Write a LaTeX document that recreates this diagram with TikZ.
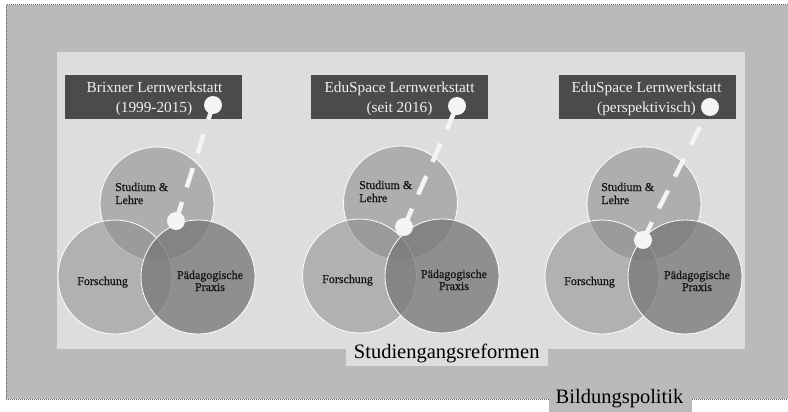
\documentclass[tikz,border=0pt]{standalone}
\usepackage{fontspec}
\setmainfont{Liberation Serif}
\newfontfamily\circfont[FakeBold=0.6]{Liberation Serif}
\definecolor{outergray}{HTML}{BABABA}
\definecolor{innergray}{HTML}{DDDDDD}
\definecolor{hdark}{HTML}{4B4B4B}
\definecolor{htext}{HTML}{F0F0F0}
\definecolor{dotwhite}{HTML}{F4F4F4}
\definecolor{ctop}{HTML}{8F8F8F}
\definecolor{cleft}{HTML}{8C8C8C}
\definecolor{cright}{HTML}{787878}
\definecolor{ctext}{HTML}{141414}
\definecolor{bordergray}{HTML}{606060}
\pgfdeclarelayer{front}
\pgfsetlayers{main,front}
\tikzset{
  hbox/.style={rectangle, fill=hdark, minimum width=177, minimum height=44, inner sep=0},
  htxt/.style={font=\fontsize{15.3}{20}\selectfont, text=htext, inner sep=0, anchor=base},
  vcirc/.style={circle, minimum size=114, inner sep=0, draw=white, line width=0.8pt},
  ctopstyle/.style={vcirc, fill=ctop, fill opacity=0.6},
  cleftstyle/.style={vcirc, fill=cleft, fill opacity=0.54},
  crightstyle/.style={vcirc, fill=cright, fill opacity=0.77},
  dotc/.style={circle, fill=dotwhite, minimum size=18, inner sep=0},
  dashline/.style={draw=dotwhite, line width=4.5pt, dash pattern=on 20pt off 15.5pt},
  ctxt/.style={font=\circfont\fontsize{12}{13}\selectfont, text=ctext, inner sep=0},
  bigtxt/.style={font=\fontsize{20.5}{24}\selectfont, text=black, inner sep=0, anchor=base},
  dotborder/.style={draw=bordergray, line width=1pt, dash pattern=on 1pt off 1pt}
}
\begin{document}
\begin{tikzpicture}[x=1pt,y=-1pt]
\useasboundingbox (0,0) rectangle (788,412);
% outer area (Bildungspolitik)
\fill[white] (0,0) rectangle (788,412);
\fill[outergray] (6,5) rectangle (792,399);
\draw[dotborder] (6,5) rectangle (792,399);
\fill[outergray] (549,381) rectangle (692,412);
\node[bigtxt] (bild) at (619.5,403.5) {Bildungspolitik};
% inner area (Studiengangsreformen)
\fill[innergray] (57,52) rectangle (745,349);
\fill[innergray] (346,340) rectangle (548,366);
\node[bigtxt] (sgr) at (446.7,358.3) {Studiengangsreformen};
% header boxes
\node[hbox] (h1) at (153.5,97) {};
\node[hbox] (h2) at (399.5,97) {};
\node[hbox] (h3) at (647,97) {};
\node[htxt] (h1a) at (154.5,93) {Brixner Lernwerkstatt};
\node[htxt] (h1b) at (154,113) {(1999-2015)};
\node[htxt] (h2a) at (399.5,93) {EduSpace Lernwerkstatt};
\node[htxt] (h2b) at (399.5,113) {(seit 2016)};
\node[htxt] (h3a) at (646.5,93) {EduSpace Lernwerkstatt};
\node[htxt] (h3b) at (646.5,113) {(perspektivisch)};
% Venn set 1
\node[ctopstyle] (t1) at (157,204) {};
\node[cleftstyle] (l1) at (115,277) {};
\node[crightstyle] (r1) at (198,277) {};
% Venn set 2
\node[ctopstyle] (t2) at (400.5,203) {};
\node[cleftstyle] (l2) at (359.5,276) {};
\node[crightstyle] (r2) at (442,276) {};
% Venn set 3
\node[ctopstyle] (t3) at (644,204) {};
\node[cleftstyle] (l3) at (602,277) {};
\node[crightstyle] (r3) at (685,277) {};
% circle labels
\node[ctxt, anchor=base west] (s1a) at (115,191) {Studium \&};
\node[ctxt, anchor=base west] (s1b) at (115,204) {Lehre};
\node[ctxt, anchor=base west] (f1) at (77,285) {Forschung};
\node[ctxt, anchor=base] (p1a) at (210,279) {Pädagogische};
\node[ctxt, anchor=base] (p1b) at (210,291) {Praxis};
\node[ctxt, anchor=base west] (s2a) at (359,189) {Studium \&};
\node[ctxt, anchor=base west] (s2b) at (359,202) {Lehre};
\node[ctxt, anchor=base west] (f2) at (322,283) {Forschung};
\node[ctxt, anchor=base] (p2a) at (454,278) {Pädagogische};
\node[ctxt, anchor=base] (p2b) at (454,290) {Praxis};
\node[ctxt, anchor=base west] (s3a) at (601,191) {Studium \&};
\node[ctxt, anchor=base west] (s3b) at (601,204) {Lehre};
\node[ctxt, anchor=base west] (f3) at (564,285) {Forschung};
\node[ctxt, anchor=base] (p3a) at (697,279) {Pädagogische};
\node[ctxt, anchor=base] (p3b) at (697,291) {Praxis};
% white dots (front layer) and dashed connectors
\begin{pgfonlayer}{front}
\node[dotc] (d1) at (176,221) {};
\node[dotc] (d2) at (404,227) {};
\node[dotc] (d3) at (643,240) {};
\node[dotc] (b1) at (213,105) {};
\node[dotc] (b2) at (457,106) {};
\node[dotc] (b3) at (710,107) {};
\end{pgfonlayer}
\draw[dashline] (d1.center) -- (b1.center);
\draw[dashline] (d2.center) -- (b2.center);
\draw[dashline] (d3.center) -- (b3.center);
\end{tikzpicture}
\end{document}
